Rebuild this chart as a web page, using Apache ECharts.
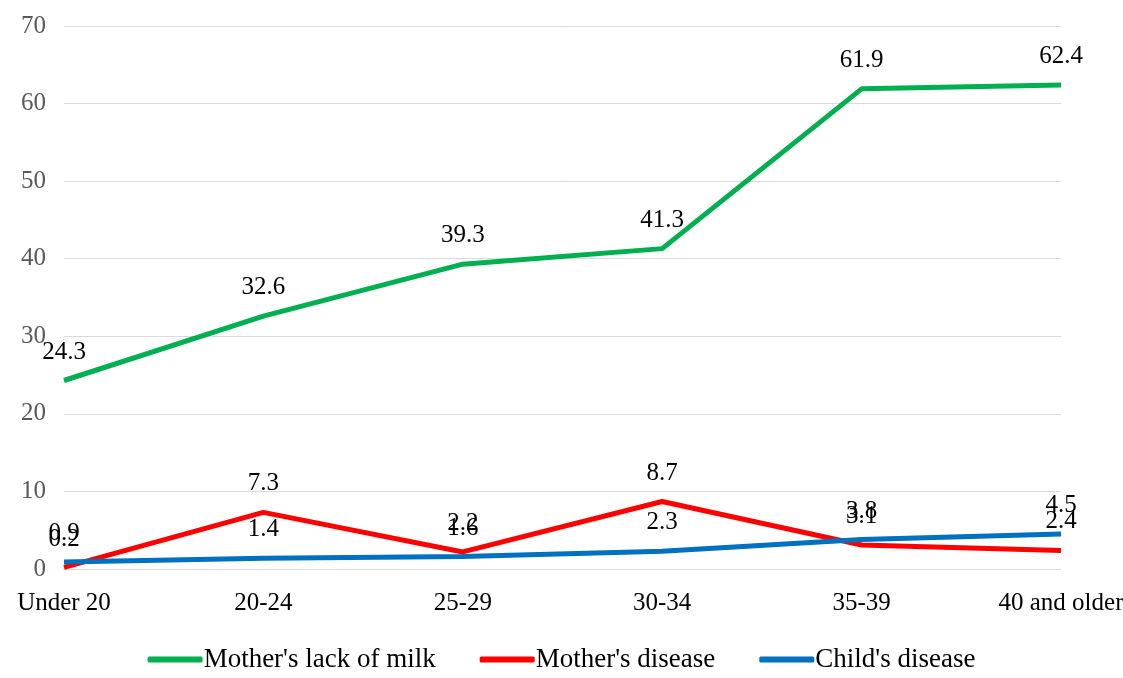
<!DOCTYPE html>
<html>
<head>
<meta charset="utf-8">
<script src="https://cdn.jsdelivr.net/npm/echarts@6/dist/echarts.min.js"></script>
<style>
html, body { margin: 0; padding: 0; background: #fff; }
#chart { width: 1123px; height: 678px; }
</style>
</head>
<body>
<div id="chart"></div>
<script>
var categories = ['Under 20', '20-24', '25-29', '30-34', '35-39', '40 and older'];
var lackOfMilk = [24.3, 32.6, 39.3, 41.3, 61.9, 62.4];
var motherDisease = [0.2, 7.3, 2.2, 8.7, 3.1, 2.4];
var childDisease = [0.9, 1.4, 1.6, 2.3, 3.8, 4.5];

var myChart = echarts.init(document.getElementById('chart'));

var font = '"Liberation Serif", "Times New Roman", serif';

function line(name, data, color) {
    return {
        name: name,
        type: 'line',
        data: data,
        symbol: 'circle',
        symbolSize: 0,
        showSymbol: true,
        lineStyle: { width: 5, color: color },
        itemStyle: { color: color },
        labelLayout: { hideOverlap: false },
        label: {
            show: true,
            position: 'top',
            distance: 16,
            color: '#000',
            fontFamily: font,
            fontSize: 25
        }
    };
}

var option = {
    animation: false,
    textStyle: { fontFamily: font },
    grid: { left: 64, right: 62, top: 26, bottom: 109, outerBoundsMode: 'none' },
    legend: {
        bottom: 0,
        left: 'center',
        itemWidth: 55,
        itemHeight: 6,
        itemGap: 44,
        icon: 'roundRect',
        textStyle: { fontFamily: font, fontSize: 27, color: '#000', padding: [0, 0, 0, -4] },
        data: ["Mother's lack of milk", "Mother's disease", "Child's disease"]
    },
    xAxis: {
        type: 'category',
        data: categories,
        boundaryGap: false,
        axisLine: { show: false },
        axisTick: { show: false },
        axisLabel: { color: '#000', fontFamily: font, fontSize: 25, margin: 22 }
    },
    yAxis: {
        type: 'value',
        min: 0,
        max: 70,
        interval: 10,
        axisLine: { show: false },
        axisTick: { show: false },
        splitLine: { lineStyle: { color: '#d9d9d9', width: 1 } },
        axisLabel: { color: '#595959', fontFamily: font, fontSize: 25, margin: 18 }
    },
    series: [
        line("Mother's lack of milk", lackOfMilk, '#00b050'),
        line("Mother's disease", motherDisease, '#ff0000'),
        line("Child's disease", childDisease, '#0070c0')
    ]
};

option && myChart.setOption(option);
</script>
</body>
</html>
